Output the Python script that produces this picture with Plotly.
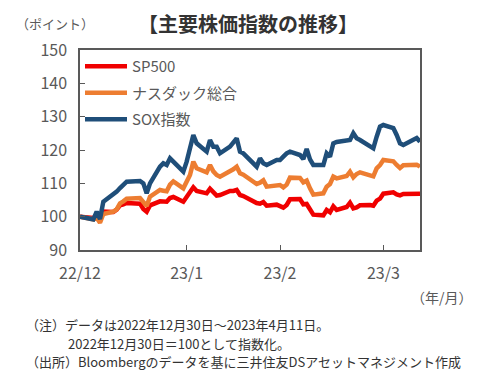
import plotly.graph_objects as go

dates = [
    "2022-12-30", "2023-01-03", "2023-01-04", "2023-01-05", "2023-01-06",
    "2023-01-09", "2023-01-10", "2023-01-11", "2023-01-12", "2023-01-13",
    "2023-01-17", "2023-01-18", "2023-01-19", "2023-01-20", "2023-01-23",
    "2023-01-24", "2023-01-25", "2023-01-26", "2023-01-27", "2023-01-30",
    "2023-01-31", "2023-02-01", "2023-02-02", "2023-02-03", "2023-02-06",
    "2023-02-07", "2023-02-08", "2023-02-09", "2023-02-10", "2023-02-13",
    "2023-02-14", "2023-02-15", "2023-02-16", "2023-02-17", "2023-02-21",
    "2023-02-22", "2023-02-23", "2023-02-24", "2023-02-27", "2023-02-28",
    "2023-03-01", "2023-03-02", "2023-03-03", "2023-03-06", "2023-03-07",
    "2023-03-08", "2023-03-09", "2023-03-10", "2023-03-13", "2023-03-14",
    "2023-03-15", "2023-03-16", "2023-03-17", "2023-03-20", "2023-03-21",
    "2023-03-22", "2023-03-23", "2023-03-24", "2023-03-27", "2023-03-28",
    "2023-03-29", "2023-03-30", "2023-03-31", "2023-04-03", "2023-04-04",
    "2023-04-05", "2023-04-06", "2023-04-10", "2023-04-11",
]

sp500 = [
    100, 99.6, 100.4, 99.2, 101.5,
    101.4, 102.1, 103.4, 103.7, 104.1,
    103.9, 102.3, 101.5, 103.4, 104.6,
    104.5, 104.5, 105.6, 105.9, 104.5,
    106.1, 107.2, 108.8, 107.7, 107.0,
    108.4, 107.2, 106.3, 106.5, 107.7,
    107.7, 108.0, 106.5, 106.2, 104.1,
    103.9, 104.4, 103.3, 103.6, 103.2,
    102.7, 103.5, 105.2, 105.3, 103.7,
    103.8, 102.0, 100.6, 100.4, 102.0,
    101.3, 103.1, 102.0, 102.9, 104.2,
    102.5, 102.8, 103.4, 103.5, 103.3,
    104.8, 105.4, 106.9, 107.3, 106.7,
    106.4, 106.8, 106.9, 106.9,
]

nasdaq = [
    100, 99.2, 99.7, 98.2, 100.8,
    101.5, 102.2, 104.0, 104.6, 105.4,
    105.6, 104.3, 103.2, 106.0, 108.0,
    107.8, 107.6, 109.6, 110.6, 108.5,
    110.2, 112.5, 116.5, 114.5, 113.3,
    115.5, 113.6, 112.5, 112.0, 113.5,
    114.2, 115.0, 113.0, 112.6, 109.8,
    110.2, 110.9, 109.0, 109.6, 109.5,
    108.8, 109.6, 111.7, 111.6, 110.3,
    110.8, 108.5, 106.6, 107.0, 109.0,
    109.8, 112.0, 111.5, 112.2, 113.5,
    111.8, 112.8, 113.3, 112.4, 112.1,
    114.5, 115.5, 117.0, 116.6, 115.5,
    114.6, 115.4, 115.6, 115.0,
]

sox = [
    100, 99.2, 101.5, 99.3, 104.5,
    106.5, 107.5, 108.6, 109.5, 110.5,
    110.7, 110.0, 107.0, 110.0, 115.0,
    116.0, 115.5, 117.5, 116.5, 113.5,
    116.5, 120.5, 124.5, 122.0, 119.5,
    123.0, 121.0, 121.0, 119.0, 121.0,
    122.5, 123.5, 119.5, 119.0, 115.0,
    117.5, 116.0, 115.5, 117.0, 117.0,
    118.0, 119.0, 119.5, 118.5, 117.3,
    120.3, 117.2, 115.5, 115.5, 119.0,
    118.0, 122.0, 122.4, 123.0, 123.0,
    125.0, 123.5, 123.0, 121.0, 120.5,
    124.0, 127.0, 127.5, 126.6, 124.5,
    122.0, 121.5, 123.6, 122.5,
]

series_names = ["SP500", "ナスダック総合", "SOX指数"]
series_values = [sp500, nasdaq, sox]
series_colors = ["#F00000", "#ED7D31", "#1F4E79"]

tick_dates = ["2022-12-30", "2023-01-31", "2023-02-28", "2023-03-31"]
tick_labels = ["22/12", "23/1", "23/2", "23/3"]

FONT = "Noto Sans CJK JP"
GRAY = "#595959"
DARK = "#333333"

fig = go.Figure()
for i, (name, vals, col) in enumerate(zip(series_names, series_values, series_colors)):
    fig.add_trace(go.Scatter(
        x=dates, y=vals, name=name, mode="lines",
        line=dict(color=col, width=4.5),
        legendgroup=f"g{i}",
    ))

# page body has an 8px margin, so the figure is 8px smaller and margins are offset
fig.update_layout(
    width=492, height=373,
    margin=dict(l=72, r=80, t=42, b=131, autoexpand=False),
    paper_bgcolor="white", plot_bgcolor="white",
    font=dict(family=FONT, color=GRAY, size=15),
    showlegend=True,
    legend=dict(
        x=0.0, y=1.0, xanchor="left", yanchor="top",
        bgcolor="rgba(0,0,0,0)", font=dict(size=15, color=GRAY, family=FONT),
        traceorder="grouped", tracegroupgap=4, itemwidth=42,
    ),
    xaxis=dict(
        type="date",
        range=["2022-12-30", "2023-04-11"],
        tickvals=tick_dates, ticktext=tick_labels,
        ticks="inside", ticklen=5, tickcolor=GRAY, tickwidth=1,
        showline=True, linecolor=GRAY, linewidth=1.5, mirror=True,
        showgrid=False, zeroline=False, ticklabelstandoff=8,
        tickfont=dict(size=16, color=GRAY, family=FONT),
    ),
    yaxis=dict(
        range=[90, 150], dtick=10, tick0=90,
        ticks="inside", ticklen=5, tickcolor=GRAY, tickwidth=1,
        showline=True, linecolor=GRAY, linewidth=1.5, mirror=True,
        showgrid=False, zeroline=False, ticklabelstandoff=8,
        tickfont=dict(size=16, color=GRAY, family=FONT),
    ),
)

note_lines = [
    ("（注）データは2022年12月30日～2023年4月11日。", -0.165, -0.373),
    ("2022年12月30日＝100として指数化。", -0.04, -0.465),
    ("（出所）Bloombergのデータを基に三井住友DSアセットマネジメント作成", -0.165, -0.557),
]

annots = [
    dict(text="<b>【主要株価指数の推移】</b>", x=0.494, y=1.133, xanchor="center", yanchor="middle",
         font=dict(size=20, color=DARK, family=FONT)),
    dict(text="（ポイント）", x=-0.195, y=1.133, xanchor="left", yanchor="middle",
         font=dict(size=13, color=GRAY, family=FONT)),
    dict(text="（年/月）", x=1.163, y=-0.235, xanchor="right", yanchor="middle",
         font=dict(size=14, color=GRAY, family=FONT)),
]
for txt, xx, yy in note_lines:
    annots.append(dict(text=txt, x=xx, y=yy, xanchor="left", yanchor="middle",
                       font=dict(size=13, color=DARK, family=FONT)))
for a in annots:
    a.update(xref="paper", yref="paper", showarrow=False)
    fig.add_annotation(**a)

fig.write_html("out.html")
